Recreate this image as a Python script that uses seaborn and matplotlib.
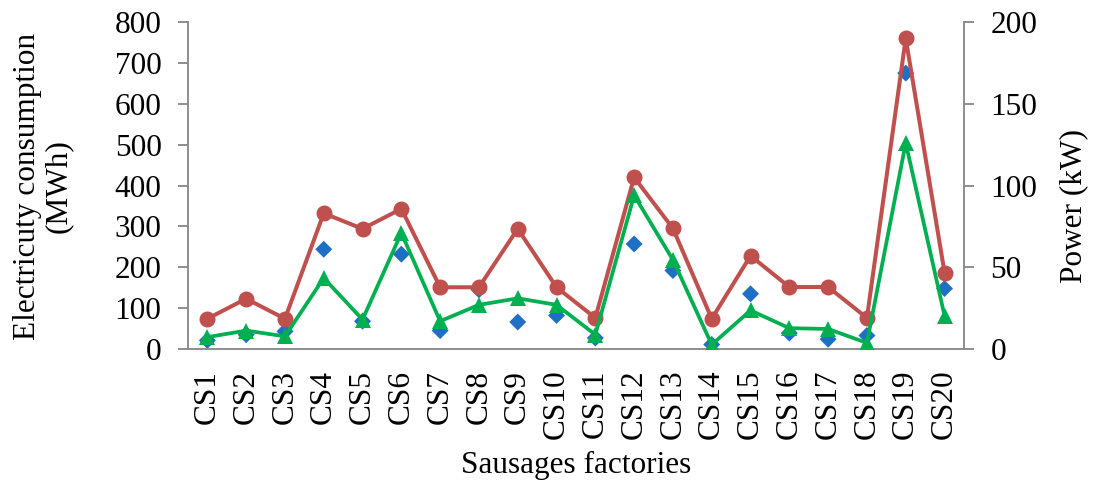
import matplotlib
matplotlib.use("Agg")
import matplotlib.pyplot as plt
import numpy as np
import pandas as pd
import seaborn as sns

# Factories and their measured values
factories = [f"CS{i}" for i in range(1, 21)]
consumption_mwh = [21, 35, 43, 244, 68, 232, 45, 145, 66, 82,
                   27, 257, 192, 11, 135, 39, 24, 33, 675, 148]
installed_power_kw = [18.5, 30.75, 18.5, 83, 73.5, 85.75, 37.75, 37.75, 73.5, 37.75,
                      19, 105, 73.75, 18.5, 57, 37.9, 37.9, 19, 190, 46.75]
used_power_kw = [7.25, 11.25, 7.75, 43.4, 18, 71, 17, 27, 31, 27,
                 8.75, 94, 54.5, 2.65, 23.6, 12.75, 12.25, 3.7, 126, 20.4]

df = pd.DataFrame({
    "pos": np.arange(len(factories)),
    "factory": factories,
    "consumption": consumption_mwh,
    "installed": installed_power_kw,
    "used": used_power_kw,
})

sns.set_style("white", {"text.color": "black", "xtick.color": "black",
                        "ytick.color": "black", "axes.labelcolor": "black"})
plt.rcParams["font.family"] = ["Liberation Serif", "DejaVu Serif"]
plt.rcParams["mathtext.fontset"] = "stix"

FS = 22.5
GREY = "#868686"
BLUE = "#1F6FC5"
RED = "#C0504D"
GREEN = "#00B050"

fig = plt.figure(figsize=(10.94, 4.86), dpi=100)
ax = fig.add_axes([0.1718, 0.2819, 0.7093, 0.6728])
ax2 = ax.twinx()

# Electricity consumption on the left axis (markers only)
sns.scatterplot(data=df, x="pos", y="consumption", ax=ax, marker="D", s=75,
                color=BLUE, edgecolor="none", zorder=2, legend=False)

# Power series on the right axis
sns.lineplot(data=df, x="pos", y="installed", ax=ax2, color=RED, linewidth=2.9,
             marker="o", markersize=11.5, markeredgewidth=0, zorder=3, legend=False)
sns.lineplot(data=df, x="pos", y="used", ax=ax2, color=GREEN, linewidth=2.7,
             marker="^", markersize=11, markeredgewidth=0, zorder=4, legend=False)

n = len(factories)
for a in (ax, ax2):
    a.set_xlim(-0.5, n - 0.5)
    a.set_facecolor("none")
    a.spines["top"].set_visible(False)

ax.set_ylim(0, 800)
ax.set_yticks(np.arange(0, 801, 100))
ax2.set_ylim(0, 200)
ax2.set_yticks(np.arange(0, 201, 50))

# Category boundaries carry the tick marks, centres carry the labels
ax.set_xticks(np.arange(-0.5, n, 1.0))
ax.set_xticklabels([])
ax.set_xticks(np.arange(n), minor=True)
ax.set_xticklabels(factories, minor=True, rotation=90, fontsize=FS)
ax.tick_params(axis="x", which="major", direction="out", length=7, width=1.3,
               color=GREY, bottom=True)
ax.tick_params(axis="x", which="minor", length=0, pad=15, bottom=True,
               labelcolor="black")
ax.tick_params(axis="y", direction="out", length=7, width=1.3, color=GREY,
               pad=12, labelsize=FS, left=True, labelcolor="black")
ax2.tick_params(axis="y", direction="out", length=7, width=1.3, color=GREY,
                pad=12, labelsize=FS, right=True, labelcolor="black")
ax2.set_xticks([])

for a in (ax, ax2):
    for side in ("left", "right", "bottom"):
        a.spines[side].set_color(GREY)
        a.spines[side].set_linewidth(1.3)
ax.spines["right"].set_visible(False)
ax2.spines["left"].set_visible(False)
ax2.spines["bottom"].set_visible(False)

ax.set_xlabel("Sausages factories", fontsize=FS, va="center", color="black")
ax.xaxis.set_label_coords(0.5, -0.355)
ax.set_ylabel("Electricuty consumption\n(MWh)", fontsize=FS, va="center",
              ha="center", linespacing=1.1, color="black")
ax.yaxis.set_label_coords(-0.187, 0.497)
ax2.set_ylabel("Power (kW)", fontsize=FS, va="center", ha="center", color="black")
ax2.yaxis.set_label_coords(1.142, 0.437)

fig.savefig("out.png", dpi=100)
